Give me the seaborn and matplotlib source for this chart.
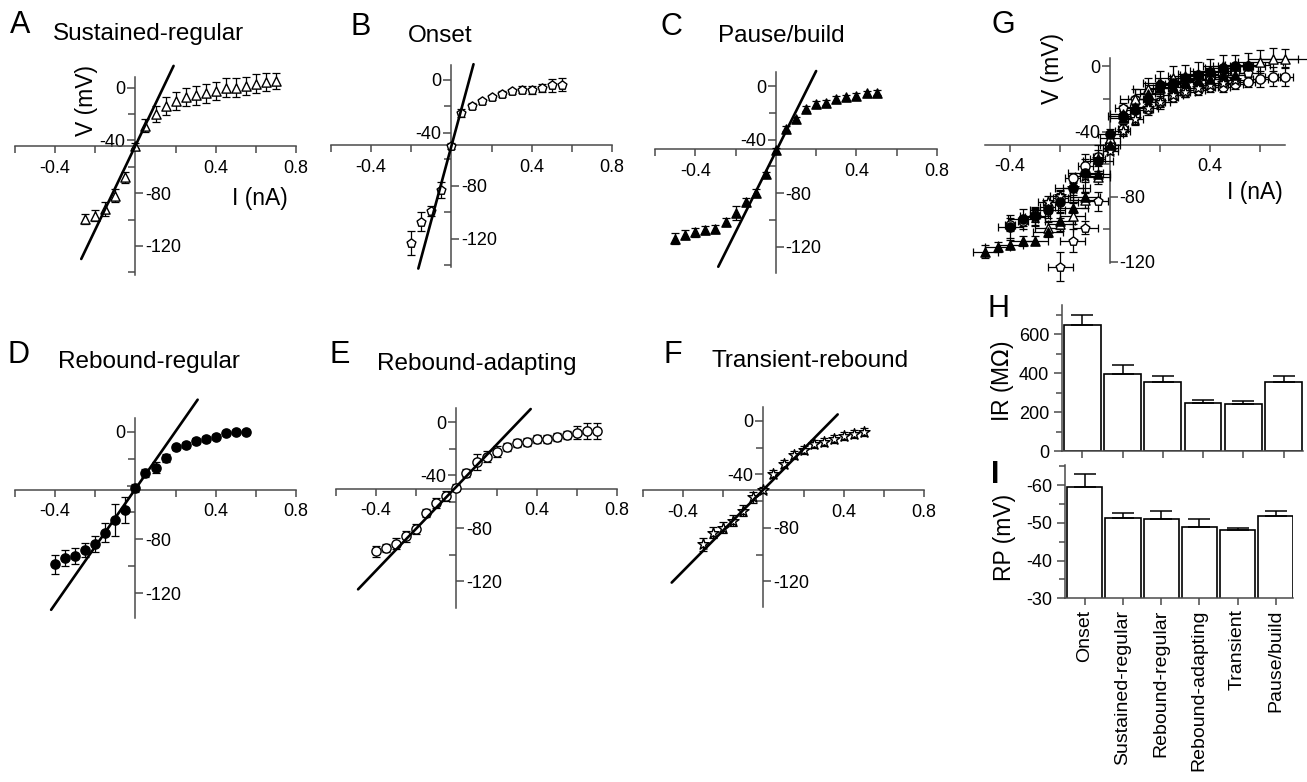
import numpy as np
import pandas as pd
import seaborn as sns
import matplotlib.pyplot as plt

# ---------------- data ----------------
CELL_TYPES = ['Onset', 'Sustained-regular', 'Rebound-regular',
              'Rebound-adapting', 'Transient', 'Pause/build']
IR_MEAN = [648, 394, 353, 245, 242, 356]      # MOhm
IR_SEM = [51, 48, 33, 17, 15, 30]
RP_MEAN = [-59.6, -51.2, -51.1, -48.8, -48.1, -51.7]   # mV
RP_SEM = [3.3, 1.3, 2.1, 2.1, 0.5, 1.5]

# I-V relations: current (nA), voltage (mV), SEM of voltage (mV), SEM of current (nA)
SUS_I = [-0.25, -0.2, -0.15, -0.1, -0.05, 0.0, 0.05, 0.1, 0.15, 0.2,
         0.25, 0.3, 0.35, 0.4, 0.45, 0.5, 0.55, 0.6, 0.65, 0.7]
SUS_V = [-99.5, -97, -92, -82, -68, -44, -29, -20, -14, -10,
         -7, -6, -4.5, -2.5, 0, 0, 1, 3, 4.3, 4.8]
SUS_E = [4, 4, 5, 5, 4, 2, 5, 6, 7, 7, 7, 7, 7, 7, 7, 7, 7, 7, 7, 6]
SUS_XE = [0.05, 0.05, 0.05, 0.05, 0.05, 0.04, 0.05, 0.06, 0.06, 0.07,
          0.07, 0.07, 0.08, 0.08, 0.08, 0.09, 0.09, 0.09, 0.1, 0.1]

ONS_I = [-0.2, -0.15, -0.1, -0.05, 0.0, 0.05, 0.1, 0.15,
         0.2, 0.25, 0.3, 0.35, 0.4, 0.45, 0.5, 0.55]
ONS_V = [-123, -107, -99, -83, -50, -25.5, -20, -16.3,
         -13.3, -10.8, -8.8, -7.5, -7.5, -6.3, -4.3, -3.8]
ONS_E = [9, 7, 4, 6, 2, 3, 2, 2, 2, 2, 2, 2.5, 3, 3, 5, 5]
ONS_XE = [0.05, 0.05, 0.05, 0.04, 0.03, 0.03, 0.03, 0.03,
          0.03, 0.03, 0.03, 0.03, 0.04, 0.04, 0.04, 0.04]

PAU_I = [-0.5, -0.45, -0.4, -0.35, -0.3, -0.25, -0.2, -0.15, -0.1, -0.05, 0.0,
         0.05, 0.1, 0.15, 0.2, 0.25, 0.3, 0.35, 0.4, 0.45, 0.5]
PAU_V = [-114, -111, -109.5, -107.5, -107, -102, -95, -87, -80, -66, -48,
         -32, -25, -17, -13.4, -12.4, -9.7, -8.5, -7.5, -5.5, -5]
PAU_E = [4, 3, 3, 3, 3, 3, 5, 3, 3, 2, 2, 2, 2, 2, 2, 2, 2, 2, 2, 2, 2]
PAU_XE = [0.05, 0.05, 0.05, 0.05, 0.05, 0.06, 0.06, 0.06, 0.06, 0.05, 0.04,
          0.05, 0.05, 0.05, 0.05, 0.06, 0.06, 0.06, 0.06, 0.06, 0.06]

RBR_I = [-0.4, -0.35, -0.3, -0.25, -0.2, -0.15, -0.1, -0.05, 0.0, 0.05,
         0.1, 0.15, 0.2, 0.25, 0.3, 0.35, 0.4, 0.45, 0.5, 0.55]
RBR_V = [-98.4, -93.7, -92.2, -88, -83.5, -75, -65.7, -58.2, -41.6, -30.5,
         -26.8, -19.8, -11.6, -9.9, -6.9, -5.4, -3.7, -1.2, 0, 0]
RBR_E = [7, 6, 6, 5, 6, 7, 12, 10, 3, 3, 4, 3, 2, 2, 2, 2, 2, 1.5, 1.5, 1.5]
RBR_XE = [0.05, 0.06, 0.06, 0.07, 0.07, 0.07, 0.07, 0.06, 0.05, 0.06,
          0.06, 0.06, 0.06, 0.06, 0.06, 0.07, 0.07, 0.07, 0.07, 0.07]

RBA_I = [-0.4, -0.35, -0.3, -0.25, -0.2, -0.15, -0.1, -0.05, 0.0, 0.05, 0.1, 0.15,
         0.2, 0.25, 0.3, 0.35, 0.4, 0.45, 0.5, 0.55, 0.6, 0.65, 0.7]
RBA_V = [-97.4, -94.9, -91.6, -86.1, -80.6, -68.5, -61, -55.5, -49.2, -38.4, -29.7, -25.9,
         -22.1, -18.8, -15.8, -14.6, -12.8, -12.8, -10.8, -9.6, -7.8, -6.3, -6.3]
RBA_E = [4, 3, 4, 4, 4, 3, 4, 4, 3, 3, 6, 4, 4, 3, 3, 3, 3, 3, 3, 3, 5, 6, 6]
RBA_XE = [0.02, 0.02, 0.02, 0.03, 0.03, 0.03, 0.03, 0.02, 0.02, 0.02, 0.02, 0.02,
          0.02, 0.02, 0.02, 0.03, 0.03, 0.03, 0.03, 0.03, 0.03, 0.03, 0.03]

TRR_I = [-0.3, -0.25, -0.2, -0.15, -0.1, -0.05, 0.0, 0.05, 0.1,
         0.15, 0.2, 0.25, 0.3, 0.35, 0.4, 0.45, 0.5]
TRR_V = [-92.3, -83.6, -79.8, -74.8, -67.2, -57.2, -51.7, -39.6, -32.6,
         -25.8, -22.1, -17.5, -15.8, -13.3, -11.5, -10, -8.3]
TRR_E = [5, 4, 4, 4, 4, 4, 2, 3, 3, 3, 3, 3, 3, 3, 3, 3, 3]
TRR_XE = [0.04, 0.04, 0.04, 0.04, 0.04, 0.03, 0.03, 0.03, 0.03,
          0.04, 0.04, 0.04, 0.04, 0.04, 0.05, 0.05, 0.05]

# linear fits near rest: (I from, I to, slope mV/nA, V at I=0)
SUS_FIT = (-0.27, 0.19, 318, -44)
ONS_FIT = (-0.165, 0.11, 560, -50)
PAU_FIT = (-0.286, 0.20, 301, -49)
RBR_FIT = (-0.42, 0.31, 214, -42.5)
RBA_FIT = (-0.49, 0.37, 158, -48.5)
TRR_FIT = (-0.457, 0.37, 152, -51.5)

# ---------------- figure ----------------
sns.set_theme(style='white')
plt.rcParams['font.family'] = ['Liberation Sans', 'DejaVu Sans']
plt.rcParams['axes.unicode_minus'] = False
plt.rcParams['text.color'] = 'black'
plt.rcParams['xtick.labelcolor'] = 'black'
plt.rcParams['ytick.labelcolor'] = 'black'

W, H = 1307, 782
fig = plt.figure(figsize=(W / 100, H / 100), dpi=100)
AXC = '#4a4a4a'


def add_ax(x0, x1, y0, y1):
    # pixel box (from top-left) -> figure fraction
    return fig.add_axes([x0 / W, 1 - y1 / H, (x1 - x0) / W, (y1 - y0) / H])


def ftext(x, y, s, **kw):
    fig.text(x / W, 1 - y / H, s, color='black', **kw)


def plot_iv(ax, I, V, E, marker, filled, size=44, xerr=None):
    ax.errorbar(I, V, yerr=E, xerr=xerr, fmt='none', ecolor='black',
                elinewidth=0.9, capsize=3, capthick=0.9, zorder=3, clip_on=False)
    sns.scatterplot(x=I, y=V, ax=ax, marker=marker, s=size,
                    color='black' if filled else 'white', edgecolor='black',
                    linewidth=1.0, zorder=4, clip_on=False, legend=False)


def plot_fit(ax, fit):
    i0, i1, slope, v0 = fit
    xs = np.array([i0, i1])
    sns.lineplot(x=xs, y=v0 + slope * xs, ax=ax, color='black',
                 linewidth=1.9, zorder=5, clip_on=False)


def iv_axes(ax, xlim, ylim, rest, xmajor, xminor, hide=()):
    ax.set_xlim(xlim)
    ax.set_ylim(ylim)
    ax.set_xlabel('')
    ax.set_ylabel('')
    ax.patch.set_alpha(0)
    ax.grid(False)
    ax.spines['top'].set_visible(False)
    ax.spines['right'].set_visible(False)
    ax.spines['left'].set_position(('data', 0))
    ax.spines['right'].set_position(('data', 0))
    ax.spines['bottom'].set_position(('data', rest))
    for s in ('left', 'bottom'):
        ax.spines[s].set_color(AXC)
        ax.spines[s].set_linewidth(1.1)
    ax.set_xticks(xmajor)
    ax.set_xticklabels([f'{v:.1f}' for v in xmajor])
    ax.set_xticks(xminor, minor=True)
    yt = [0, -40, -80, -120]
    ax.set_yticks(yt)
    ax.set_yticklabels([str(v) for v in yt])
    ax.set_yticks([v for v in (-20, -60, -100, -140) if v > ylim[0]], minor=True)
    ax.tick_params(axis='x', which='both', bottom=True, top=False, direction='out',
                   length=5, width=1.1, color=AXC, labelsize=13, pad=5)
    ax.tick_params(axis='y', which='major', left=True, right=True, labelleft=True,
                   labelright=True, direction='out', length=6, width=1.1,
                   color=AXC, labelsize=13, pad=1)
    ax.tick_params(axis='y', which='minor', left=True, right=False, direction='out',
                   length=5, width=1.1, color=AXC)
    for t, v in zip(ax.yaxis.get_major_ticks(), yt):
        on_left = v > rest
        t.tick1line.set_visible(on_left)
        t.label1.set_visible(on_left and v not in hide)
        t.tick2line.set_visible(not on_left)
        t.label2.set_visible((not on_left) and v not in hide)


XMAJ = [-0.4, 0.4, 0.8]
XMIN = [-0.6, -0.2, 0.2, 0.6]

panels = [
    # data, marker, filled, fit, pixel box, ylim, rest, hidden y labels
    ((SUS_I, SUS_V, SUS_E), '^', False, SUS_FIT, (15, 296, 77, 275), (-142, 8), -44, ()),
    ((ONS_I, ONS_V, ONS_E), 'p', False, ONS_FIT, (331, 612, 65, 266.7), (-141, 11), -49.5, ()),
    ((PAU_I, PAU_V, PAU_E), '^', True, PAU_FIT, (655, 937, 71.7, 273.3), (-140, 10.7), -47, ()),
    ((RBR_I, RBR_V, RBR_E), 'o', True, RBR_FIT, (15, 296, 418.3, 618.3), (-138.7, 10), -43, (-40,)),
    ((RBA_I, RBA_V, RBA_E), 'o', False, RBA_FIT, (336, 617, 408.3, 608), (-140, 10.5), -50, ()),
    ((TRR_I, TRR_V, TRR_E), '*', False, TRR_FIT, (643, 924, 406.7, 606.7), (-139, 10.5), -51.6, ()),
]

for (I, V, E), mk, filled, fit, box, ylim, rest, hide in panels:
    ax = add_ax(*box)
    plot_iv(ax, I, V, E, mk, filled, size=70 if mk == '*' else 44)
    plot_fit(ax, fit)
    iv_axes(ax, (-0.6, 0.8), ylim, rest, XMAJ, XMIN, hide)

# axis labels for panel A
ftext(87, 100, 'V (mV)', rotation=90, ha='center', va='center', fontsize=16.5)
ftext(232, 199, 'I (nA)', ha='left', va='center', fontsize=16.5)

# panel G: overlay with current SEM
axg = add_ax(985, 1285, 58.3, 263.3)
g_series = [
    (RBA_I, RBA_V, RBA_E, RBA_XE, 'o', False),
    (ONS_I, ONS_V, ONS_E, ONS_XE, 'p', False),
    (SUS_I, SUS_V, SUS_E, SUS_XE, '^', False),
    (TRR_I, TRR_V, TRR_E, TRR_XE, '*', False),
    (RBR_I, RBR_V, RBR_E, RBR_XE, 'o', True),
    (PAU_I, PAU_V, PAU_E, PAU_XE, '^', True),
]
for I, V, E, XE, mk, filled in g_series:
    plot_iv(axg, I, V, E, mk, filled, size=70 if mk == '*' else 44, xerr=XE)
iv_axes(axg, (-0.5, 0.7), (-121, 5), -48, [-0.4, 0.4], [-0.2, 0.2, 0.6])
ftext(1052, 68, 'V (mV)', rotation=90, ha='center', va='center', fontsize=16.5)
ftext(1227, 192, 'I (nA)', ha='left', va='center', fontsize=16.5)

# panel H: input resistance
df = pd.DataFrame({'cell': CELL_TYPES, 'ir': IR_MEAN, 'rp': RP_MEAN})
axh = add_ax(1061.7, 1303, 305, 451)
sns.barplot(data=df, x='cell', y='ir', ax=axh, color='white', saturation=1,
            edgecolor='black', linewidth=1.2, width=0.91, errorbar=None)
axh.errorbar(np.arange(len(CELL_TYPES)), IR_MEAN, yerr=[np.zeros(len(IR_SEM)), IR_SEM],
             fmt='none', ecolor='black', elinewidth=1.1, capsize=8, capthick=1.1, zorder=1)
axh.set_xlim(-0.51, 5.48)
axh.set_ylim(0, 750)
axh.set_yticks([0, 200, 400, 600])
axh.set_yticks([100, 300, 500, 700], minor=True)
axh.set_xticks(range(len(CELL_TYPES)))
axh.set_xticklabels([])
axh.set_xlabel('')
axh.set_ylabel('')

# panel I: resting potential (axis inverted, bars rise from -30)
axi = add_ax(1065, 1293.3, 465, 598.3)
sns.barplot(data=df, x='cell', y='rp', ax=axi, color='white', saturation=1,
            edgecolor='black', linewidth=1.2, width=0.92, errorbar=None)
axi.errorbar(np.arange(len(CELL_TYPES)), RP_MEAN, yerr=[RP_SEM, np.zeros(len(RP_SEM))],
             fmt='none', ecolor='black', elinewidth=1.1, capsize=8, capthick=1.1, zorder=1)
axi.set_xlim(-0.518, 5.46)
axi.set_ylim(-30, -65.3)
axi.set_yticks([-60, -50, -40, -30])
axi.set_yticklabels(['-60', '-50', '-40', '-30'])
axi.set_yticks([-65, -55, -45, -35], minor=True)
axi.set_xticks(range(len(CELL_TYPES)))
axi.set_xticklabels(CELL_TYPES, rotation=90, fontsize=14)
axi.set_xlabel('')
axi.set_ylabel('')

for ax in (axh, axi):
    ax.patch.set_alpha(0)
    ax.grid(False)
    ax.spines['top'].set_visible(False)
    ax.spines['right'].set_visible(False)
    for s in ('left', 'bottom'):
        ax.spines[s].set_color(AXC)
        ax.spines[s].set_linewidth(1.1)
    ax.tick_params(axis='y', which='major', left=True, direction='out', length=6,
                   width=1.1, color=AXC, labelsize=13, pad=3)
    ax.tick_params(axis='y', which='minor', left=True, direction='out', length=4,
                   width=1.1, color=AXC)
    ax.tick_params(axis='x', which='major', bottom=True, direction='out', length=5,
                   width=1.1, color=AXC, pad=3)

ftext(1003, 381, 'IR (M$\\Omega$)', rotation=90, ha='center', va='center', fontsize=16.5)
ftext(1005, 537, 'RP (mV)', rotation=90, ha='center', va='center', fontsize=16.5)

# panel letters and titles
LET = 22
TIT = 17.5
ftext(10, 33, 'A', fontsize=LET)
ftext(53, 40, 'Sustained-regular', fontsize=TIT)
ftext(350, 35, 'B', fontsize=LET)
ftext(408, 42, 'Onset', fontsize=TIT)
ftext(660, 35, 'C', fontsize=LET)
ftext(718, 42, 'Pause/build', fontsize=TIT)
ftext(992, 33, 'G', fontsize=LET)
ftext(8, 363, 'D', fontsize=LET)
ftext(58, 368, 'Rebound-regular', fontsize=TIT)
ftext(330, 363, 'E', fontsize=LET)
ftext(377, 370, 'Rebound-adapting', fontsize=TIT)
ftext(663, 363, 'F', fontsize=LET)
ftext(712, 367, 'Transient-rebound', fontsize=TIT)
ftext(987, 317, 'H', fontsize=LET)
ftext(991, 483, 'I', fontsize=LET, fontweight='bold')

fig.savefig('out.png', dpi=100, facecolor='white')
